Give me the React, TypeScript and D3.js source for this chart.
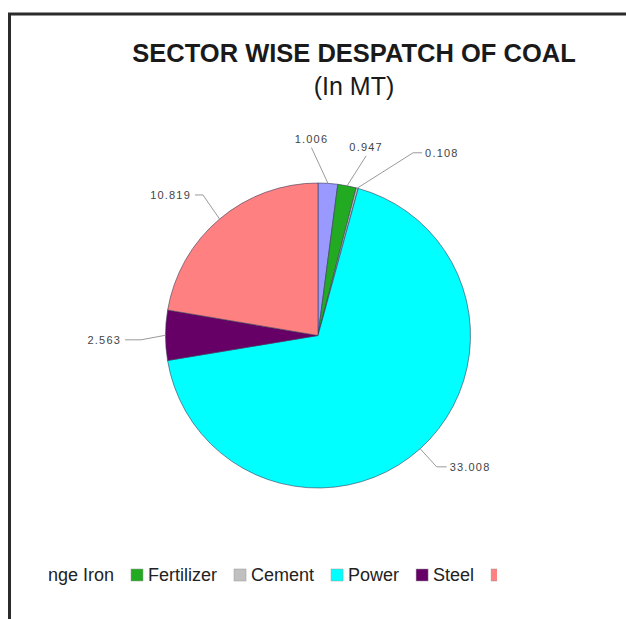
import { useEffect, useRef } from "react"
import * as d3 from "d3"

const sectors = ["Sponge Iron", "Fertilizer", "Cement", "Power", "Steel", "Others"]
const despatch = [1.006, 0.947, 0.108, 33.008, 2.563, 10.819]
const valueLabels = ["1.006", "0.947", "0.108", "33.008", "2.563", "10.819"]
const sliceColors = ["#9999ff", "#22aa22", "#c0c0c0", "#00ffff", "#660066", "#ff8080"]

// leader line elbows: angle (deg, clockwise from 12 o'clock), radius, horizontal tail
const labelLayout = [
    { angle: -2, radius: 188, tail: 0 },
    { angle: 15, radius: 186, tail: 0 },
    { angle: 27.5, radius: 206, tail: 9 },
    { angle: 137.9, radius: 177, tail: 10 },
    { angle: 268.6, radius: 177, tail: -16 },
    { angle: 320.7, radius: 181.6, tail: -8 },
]

export default function App() {
    const chart = useRef<SVGSVGElement>(null)
    const width = 626
    const height = 619

    useEffect(() => {
        const svg = d3.select(chart.current)
        svg.selectAll("*").remove()

        const cx = 318, cy = 335.5, r = 152.5

        // frame
        svg.append("path")
            .attr("d", `M9.5,${height} L9.5,14 L${width},14`)
            .attr("fill", "none")
            .attr("stroke", "#2b2b2b")
            .attr("stroke-width", 3)

        svg.append("text")
            .attr("x", 354).attr("y", 62)
            .attr("text-anchor", "middle")
            .attr("font-family", "Liberation Sans, Arial, sans-serif")
            .attr("font-weight", "bold")
            .attr("font-size", 25.5)
            .attr("fill", "#1a1a1a")
            .text("SECTOR WISE DESPATCH OF COAL")

        svg.append("text")
            .attr("x", 354).attr("y", 95)
            .attr("text-anchor", "middle")
            .attr("font-family", "Liberation Sans, Arial, sans-serif")
            .attr("font-size", 25)
            .attr("fill", "#1a1a1a")
            .text("(In MT)")

        const pie = d3.pie<number>().sort(null).value(d => d)
        const arcs = pie(despatch)
        const arc = d3.arc<d3.PieArcDatum<number>>().innerRadius(0).outerRadius(r)

        const g = svg.append("g").attr("transform", `translate(${cx},${cy})`)

        g.selectAll("path.slice")
            .data(arcs)
            .enter().append("path")
            .attr("class", "slice")
            .attr("d", arc)
            .attr("fill", (d, i) => sliceColors[i])
            .attr("stroke", "#3a3a5a")
            .attr("stroke-width", 0.6)

        const polar = (a: number, rad: number): [number, number] =>
            [rad * Math.sin(a), -rad * Math.cos(a)]

        arcs.forEach((d, i) => {
            const mid = (d.startAngle + d.endAngle) / 2
            const lay = labelLayout[i]
            const p0 = polar(mid, r)
            const p1 = polar(lay.angle * Math.PI / 180, lay.radius)
            const p2: [number, number] = [p1[0] + lay.tail, p1[1]]
            g.append("path")
                .attr("d", d3.line()([p0, p1, p2]))
                .attr("fill", "none")
                .attr("stroke", "#9a9a9a")
                .attr("stroke-width", 1)
            let tx = p2[0], ty = p2[1], anchor = "middle"
            if (lay.tail > 0) { tx += 3; ty += 4; anchor = "start" }
            else if (lay.tail < 0) { tx -= 4; ty += 4; anchor = "end" }
            else { ty -= 5 }
            g.append("text")
                .attr("x", tx).attr("y", ty)
                .attr("text-anchor", anchor)
                .attr("font-family", "Liberation Sans, Arial, sans-serif")
                .attr("font-size", 11)
                .attr("letter-spacing", 1.2)
                .attr("fill", "#444")
                .text(valueLabels[i])
        })

        // legend, clipped like the source
        svg.append("clipPath").attr("id", "legend-clip")
            .append("rect").attr("x", 49).attr("y", 540).attr("width", 448).attr("height", 60)

        const legend = svg.append("g").attr("clip-path", "url(#legend-clip)")
        const items = legend.selectAll("g.item")
            .data(sectors)
            .enter().append("g").attr("class", "item")
        items.append("rect")
            .attr("width", 12).attr("height", 12)
            .attr("y", -12)
            .attr("fill", (d, i) => sliceColors[i])
            .attr("stroke", "#999").attr("stroke-width", 0.5)
        items.append("text")
            .attr("x", 17)
            .attr("font-family", "Liberation Sans, Arial, sans-serif")
            .attr("font-size", 18)
            .attr("fill", "#222")
            .text(d => d)

        const widths: number[] = []
        items.each(function () {
            widths.push((this as SVGGElement).getBBox().width)
        })
        // Fertilizer swatch anchors the row
        let x = 131 - widths[0] - 17
        items.attr("transform", (d, i) => {
            const t = `translate(${x},581)`
            x += widths[i] + 17
            return t
        })
    }, [])

    return (
        <svg ref={chart} width={width} height={height}
            style={{ position: "absolute", left: 0, top: 0, background: "#fff" }} />
    )
}
